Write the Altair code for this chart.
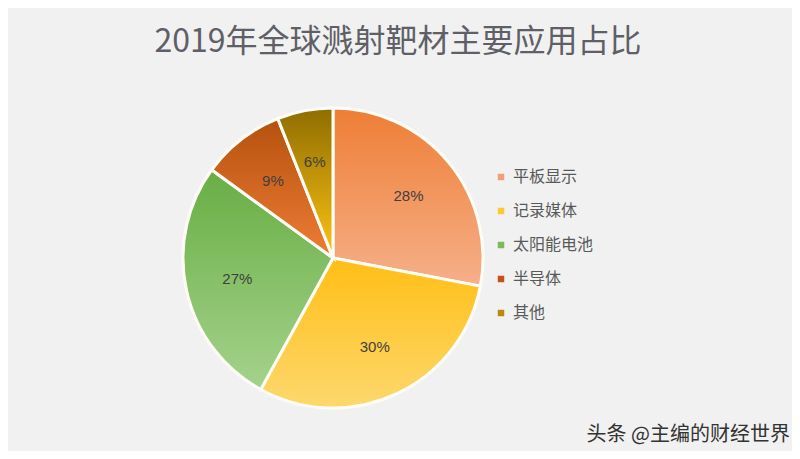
import altair as alt
import pandas as pd

# ---- data ----
categories = ["平板显示", "记录媒体", "太阳能电池", "半导体", "其他"]
values = [28, 30, 27, 9, 6]
grad_top = ["#EE7E35", "#FFBE14", "#68AE44", "#B4520E", "#8E6D00"]
grad_bottom = ["#F6B08A", "#FDD86E", "#A5D28C", "#EE7C35", "#FFC414"]
legend_colors = ["#F0A078", "#FFC830", "#7FB85A", "#C8501A", "#B88A10"]
title_text = "2019年全球溅射靶材主要应用占比"
watermark = "头条 @主编的财经世界"

df = pd.DataFrame({"cat": categories, "value": values, "order": list(range(len(categories)))})

W, H = 784, 443
CX, CY, R = 325, 250, 150

theta_scale = alt.Scale(domain=[0, 100], range=[0, 6.283185307])

base = (
    alt.Chart(df)
    .transform_window(end="sum(value)", sort=[alt.SortField("order")], frame=[None, 0])
    .transform_calculate(start="datum.end - datum.value", mid="datum.end - datum.value / 2")
)

legend_layer = base.mark_arc(radius=R, opacity=0).encode(
    theta=alt.Theta("start:Q", scale=theta_scale),
    theta2="end:Q",
    x=alt.value(CX),
    y=alt.value(CY),
    color=alt.Color(
        "cat:N",
        scale=alt.Scale(domain=categories, range=legend_colors),
        sort=categories,
        legend=alt.Legend(
            title=None,
            orient="none",
            legendX=485,
            legendY=161,
            symbolType="square",
            symbolSize=42,
            symbolOpacity=1,
            symbolStrokeWidth=0,
            labelFontSize=16,
            labelFont="Noto Sans CJK SC",
            labelColor="#595959",
            rowPadding=18,
            labelOffset=4,
        ),
    ),
)

slice_layers = []
for i, c in enumerate(categories):
    grad = {
        "gradient": "linear",
        "x1": 0, "y1": 0, "x2": 0, "y2": 1,
        "stops": [
            {"offset": 0, "color": grad_top[i]},
            {"offset": 1, "color": grad_bottom[i]},
        ],
    }
    layer = (
        base.transform_filter(alt.datum.cat == c)
        .mark_arc(radius=R, fill=grad, stroke="#FFFDF5", strokeWidth=3)
        .encode(
            theta=alt.Theta("start:Q", scale=theta_scale),
            theta2="end:Q",
            x=alt.value(CX),
            y=alt.value(CY),
        )
    )
    slice_layers.append(layer)

labels = base.transform_calculate(lbl="datum.value + '%'").mark_text(
    radius=98, fontSize=15, font="Liberation Sans", color="#404040"
).encode(
    theta=alt.Theta("mid:Q", scale=theta_scale),
    text="lbl:N",
    x=alt.value(CX),
    y=alt.value(CY),
)

title = alt.Chart(pd.DataFrame({"t": [title_text]})).mark_text(
    fontSize=32, font="Noto Sans CJK SC", color="#5F5F68", align="center", baseline="middle"
).encode(text="t:N", x=alt.value(390), y=alt.value(34))

wm = alt.Chart(pd.DataFrame({"t": [watermark]})).mark_text(
    fontSize=20, font="Noto Sans CJK SC", color="#333333", align="right", baseline="middle"
).encode(text="t:N", x=alt.value(782), y=alt.value(427))

chart = (
    alt.layer(legend_layer, *slice_layers, labels, title, wm)
    .properties(width=W, height=H, autosize=alt.AutoSizeParams(type="none"), padding=0, background="#F1F1F1")
    .configure_view(stroke=None)
)

chart.save("out.html", embed_options={"renderer": "svg", "actions": False})
